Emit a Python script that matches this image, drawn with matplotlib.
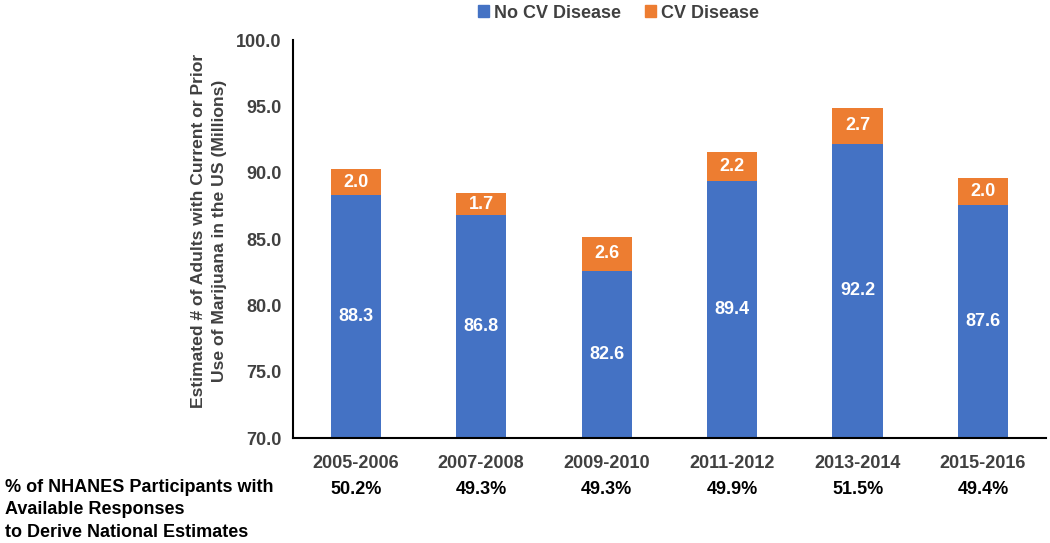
import numpy as np
import matplotlib.pyplot as plt
import matplotlib.patches as mpatches

plt.rcParams["font.family"] = ["Liberation Sans", "DejaVu Sans"]
plt.rcParams["font.weight"] = "bold"

periods = ["2005-2006", "2007-2008", "2009-2010", "2011-2012", "2013-2014", "2015-2016"]
no_cv = [88.3, 86.8, 82.6, 89.4, 92.2, 87.6]
cv = [2.0, 1.7, 2.6, 2.2, 2.7, 2.0]
pct_resp = ["50.2%", "49.3%", "49.3%", "49.9%", "51.5%", "49.4%"]

blue = "#4472C4"
orange = "#ED7D31"
gray = "#404040"
ymin, ymax = 70, 100

fig = plt.figure(figsize=(10.5, 5.43), dpi=100)
ax = fig.add_axes([0.279, 0.193, 0.717, 0.733])

x = np.arange(len(periods))
width = 0.4
ax.bar(x, no_cv, width, color=blue, label="No CV Disease")
ax.bar(x, cv, width, bottom=no_cv, color=orange, label="CV Disease")

for xi, a, b in zip(x, no_cv, cv):
    ax.text(xi, (ymin + a) / 2, f"{a:.1f}", ha="center", va="center",
            color="white", fontsize=13, fontweight="bold")
    ax.text(xi, a + b / 2, f"{b:.1f}", ha="center", va="center",
            color="white", fontsize=13, fontweight="bold")

ax.set_xlim(-0.5, len(periods) - 0.5)
ax.set_ylim(ymin, ymax)
ax.set_yticks(np.arange(70, 100.1, 5))
ax.set_yticklabels([f"{v:.1f}" for v in np.arange(70, 100.1, 5)])
ax.set_xticks(x)
ax.set_xticklabels(periods)
ax.tick_params(axis="both", length=0, labelsize=13, labelcolor=gray)
ax.tick_params(axis="x", pad=12)
ax.tick_params(axis="y", pad=8)
for s in ["top", "right"]:
    ax.spines[s].set_visible(False)
for s in ["left", "bottom"]:
    ax.spines[s].set_linewidth(1.5)
    ax.spines[s].set_color("black")

ax.set_ylabel("Estimated # of Adults with Current or Prior\nUse of Marijuana in the US (Millions)",
              fontsize=12.6, color=gray, fontweight="bold", linespacing=1.5)
ax.yaxis.set_label_coords(-0.087, 0.52)

# response rate row below the axis
for xi, p in zip(x, pct_resp):
    ax.text(xi, -0.13, p, transform=ax.get_xaxis_transform(), ha="center", va="center",
            fontsize=13, fontweight="bold", color="black")
fig.text(0.005, 0.118, "% of NHANES Participants with\nAvailable Responses\nto Derive National Estimates",
         ha="left", va="top", fontsize=13, fontweight="bold", color="black", linespacing=1.42)

handles = [mpatches.Patch(color=blue, label="No CV Disease"),
           mpatches.Patch(color=orange, label="CV Disease")]
fig.legend(handles=handles, loc="center", bbox_to_anchor=(0.589, 0.976), ncol=2, frameon=False,
           fontsize=13, labelcolor=gray, handlelength=0.6, handleheight=0.6, handletextpad=0.3,
           columnspacing=1.3)

plt.savefig("out.png", dpi=100)
plt.close()
